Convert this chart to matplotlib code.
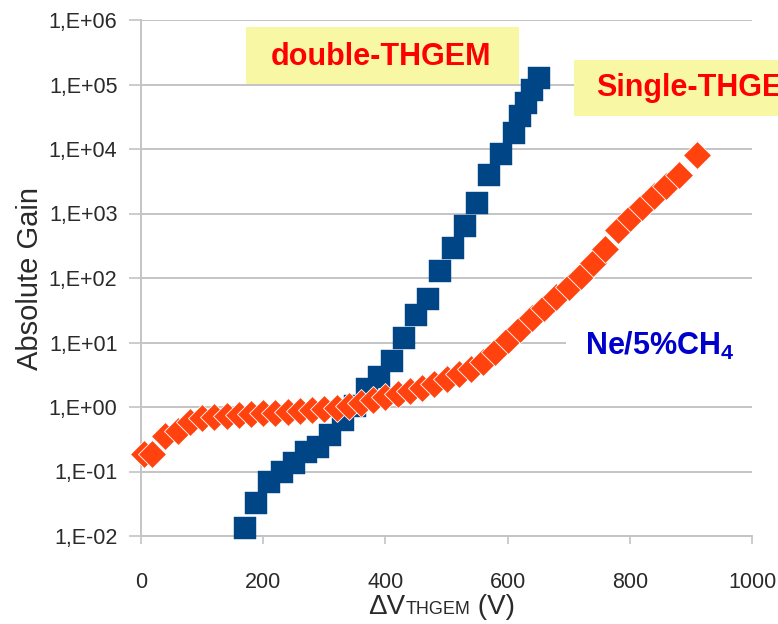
import numpy as np
import matplotlib
matplotlib.use("Agg")
import matplotlib.pyplot as plt
from matplotlib.ticker import FixedLocator, FuncFormatter, NullLocator
from matplotlib.patches import Rectangle
from matplotlib.offsetbox import TextArea, HPacker, AnchoredOffsetbox

plt.rcParams['font.family'] = ['Liberation Sans', 'DejaVu Sans']
plt.rcParams['mathtext.fontset'] = 'custom'
plt.rcParams['mathtext.rm'] = 'Liberation Sans'
plt.rcParams['mathtext.bf'] = 'Liberation Sans:bold'

# ---- data ----
double_v = [170, 189, 210, 230, 250, 270, 290, 310, 330, 350, 370, 390, 410,
            430, 450, 470, 490, 510, 530, 550, 570, 590, 610, 620, 630, 640, 652]
double_gain = [0.0135, 0.033, 0.068, 0.10, 0.136, 0.20, 0.24, 0.37, 0.63, 1.03,
               1.9, 2.9, 5.2, 11.6, 26.7, 48, 130, 297, 630, 1480, 4000, 8500,
               18000, 32000, 52000, 83000, 126000]

single_v = [5, 18, 40, 60, 80, 100, 120, 140, 160, 180, 200, 220, 240, 260, 280,
            300, 320, 340, 360, 380, 400, 420, 440, 460, 480, 500, 520, 540, 560,
            580, 600, 620, 640, 660, 680, 700, 720, 740, 760, 780, 800, 820, 840,
            860, 880, 910]
single_gain = [0.19, 0.19, 0.35, 0.42, 0.58, 0.68, 0.70, 0.72, 0.74, 0.77, 0.80,
               0.82, 0.84, 0.86, 0.89, 0.93, 0.98, 1.05, 1.15, 1.27, 1.42, 1.58,
               1.75, 2.0, 2.3, 2.7, 3.2, 3.9, 5.0, 7.2, 11, 16, 24, 34, 50, 73,
               108, 170, 280, 550, 850, 1250, 1900, 2700, 4000, 8000]

x_ticks = [0, 200, 400, 600, 800, 1000]
y_exponents = [-2, -1, 0, 1, 2, 3, 4, 5, 6]

# ---- figure ----
W, H = 778, 624
fig = plt.figure(figsize=(W / 100, H / 100), dpi=100)
L, R, T, B = 141, 752, 20, 536
ax = fig.add_axes([L / W, 1 - B / H, (R - L) / W, (B - T) / H])

grey = '#c4c4c4'
ax.set_yscale('log')
ax.set_xlim(0, 1000)
ax.set_ylim(1e-2, 1e6)
ax.yaxis.set_major_locator(FixedLocator([10.0 ** e for e in y_exponents]))
ax.yaxis.set_minor_locator(NullLocator())
ax.yaxis.set_major_formatter(FuncFormatter(
    lambda v, p: "1,E{:+03d}".format(int(round(np.log10(v))))))
ax.xaxis.set_major_locator(FixedLocator(x_ticks))

ax.grid(axis='y', color=grey, lw=1.4)
ax.set_axisbelow(True)
for s in ['top', 'right']:
    ax.spines[s].set_visible(False)
for s in ['left', 'bottom']:
    ax.spines[s].set_color(grey)
    ax.spines[s].set_linewidth(1.4)

ax.tick_params(axis='y', direction='out', length=9, width=1.2, color=grey,
               labelsize=15.5, labelcolor='#2a2a2a', pad=8)
ax.tick_params(axis='x', direction='out', length=6, width=1.2, color=grey,
               labelsize=15.5, labelcolor='#2a2a2a', pad=20)

ax.set_ylabel('Absolute Gain', fontsize=21, color='#2a2a2a', labelpad=3)

ax.plot(double_v, double_gain, ls='none', marker='s', ms=15.5,
        color='#004586', mec='#004586', mew=0.3, zorder=3, clip_on=False)
ax.plot(single_v, single_gain, ls='none', marker='D', ms=14.5,
        color='#ff420e', mec='white', mew=0.6, zorder=4, clip_on=False)

# x label with smaller "THGEM"
parts = [TextArea('\u0394V', textprops=dict(size=20, color='#2a2a2a')),
         TextArea('THGEM', textprops=dict(size=13, color='#2a2a2a')),
         TextArea(' (V)', textprops=dict(size=20, color='#2a2a2a'))]
box = HPacker(children=parts, align='baseline', pad=0, sep=0)
anch = AnchoredOffsetbox(loc='center', child=box, frameon=False,
                         bbox_to_anchor=(442 / W, 1 - 607 / H),
                         bbox_transform=fig.transFigure, borderpad=0, pad=0)
fig.add_artist(anch)

# label boxes
def fbox(x0, y0, x1, y1, color):
    fig.add_artist(Rectangle((x0 / W, 1 - y1 / H), (x1 - x0) / W, (y1 - y0) / H,
                             transform=fig.transFigure, facecolor=color,
                             edgecolor='none', zorder=5))

yellow = '#f8f8a4'
fbox(246, 27, 519, 84, yellow)
fig.text(381 / W, 1 - 57 / H, 'double-THGEM', color='#ff0000', fontsize=22,
         fontweight='bold', ha='center', va='center', zorder=6)
fbox(574, 60, 790, 116, yellow)
fig.text(596 / W, 1 - 88 / H, 'Single-THGEM', color='#ff0000', fontsize=22,
         fontweight='bold', ha='left', va='center', zorder=6)
fbox(566, 322, 770, 370, 'white')
fig.text(585 / W, 1 - 346 / H, r'Ne/5%CH$_\mathbf{4}$', color='#0000cc',
         fontsize=22, fontweight='bold', ha='left', va='center', zorder=6)

fig.savefig('out.png', dpi=100)
